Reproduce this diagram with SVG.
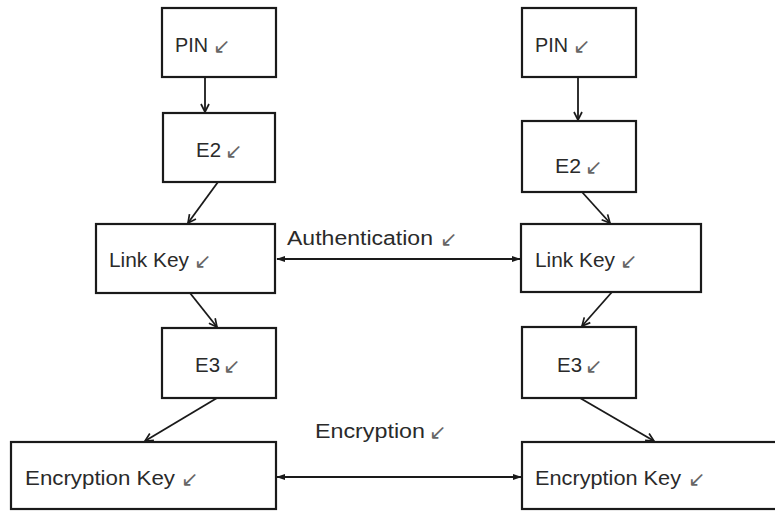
<svg xmlns="http://www.w3.org/2000/svg" width="775" height="511" viewBox="0 0 775 511">
<defs>
<style>
.box{fill:#fff;stroke:#1a1a1a;stroke-width:2.2}
.lbl{font-family:"Liberation Sans",Arial,sans-serif;font-size:20px;fill:#2a2a2a}
.ar{font-family:"DejaVu Sans",sans-serif;font-size:21px;fill:#666}
.con{stroke:#1a1a1a;stroke-width:1.8;fill:none}
</style>
<marker id="v" viewBox="0 0 10 10" refX="9" refY="5" markerWidth="10" markerHeight="10" orient="auto" markerUnits="userSpaceOnUse">
<path d="M1,1 L9,5 L1,9" fill="none" stroke="#1a1a1a" stroke-width="1.7"/>
</marker>
<marker id="t" viewBox="0 0 10 10" refX="9" refY="5" markerWidth="9" markerHeight="9" orient="auto-start-reverse" markerUnits="userSpaceOnUse">
<path d="M0,1.5 L10,5 L0,8.5 Z" fill="#1a1a1a"/>
</marker>
</defs>
<rect width="775" height="511" fill="#fff"/>
<g id="connectors">
<line class="con" x1="205" y1="77" x2="205" y2="112" marker-end="url(#v)"/>
<line class="con" x1="218" y1="182" x2="188" y2="223" marker-end="url(#v)"/>
<line class="con" x1="190" y1="293" x2="217" y2="327" marker-end="url(#v)"/>
<line class="con" x1="217" y1="398" x2="145" y2="441" marker-end="url(#v)"/>
<line class="con" x1="578" y1="77" x2="578" y2="120" marker-end="url(#v)"/>
<line class="con" x1="582" y1="192" x2="610" y2="223" marker-end="url(#v)"/>
<line class="con" x1="612" y1="292" x2="582" y2="326" marker-end="url(#v)"/>
<line class="con" x1="580" y1="398" x2="654" y2="441" marker-end="url(#v)"/>
<line class="con" x1="277" y1="259" x2="520" y2="259" marker-start="url(#t)" marker-end="url(#t)"/>
<line class="con" x1="277" y1="477" x2="521" y2="477" marker-start="url(#t)" marker-end="url(#t)"/>
<text class="lbl" x="287" y="245" textLength="146" lengthAdjust="spacingAndGlyphs">Authentication</text><text class="ar" x="440" y="246">↙</text>
<text class="lbl" x="315" y="438" textLength="110" lengthAdjust="spacingAndGlyphs">Encryption</text><text class="ar" x="429" y="439">↙</text>
</g>
<g id="pin-left"><rect class="box" x="162" y="8" width="114" height="69"/><text class="lbl" x="175" y="52" textLength="33" lengthAdjust="spacingAndGlyphs">PIN</text><text class="ar" x="213" y="53">↙</text></g>
<g id="e2-left"><rect class="box" x="163" y="113" width="112" height="69"/><text class="lbl" x="196" y="157" textLength="25" lengthAdjust="spacingAndGlyphs">E2</text><text class="ar" x="225" y="158">↙</text></g>
<g id="linkkey-left"><rect class="box" x="96" y="224" width="179" height="69"/><text class="lbl" x="109" y="267" textLength="80" lengthAdjust="spacingAndGlyphs">Link Key</text><text class="ar" x="194" y="268">↙</text></g>
<g id="e3-left"><rect class="box" x="162" y="328" width="114" height="70"/><text class="lbl" x="195" y="372" textLength="25" lengthAdjust="spacingAndGlyphs">E3</text><text class="ar" x="223" y="373">↙</text></g>
<g id="enckey-left"><rect class="box" x="11" y="442" width="265" height="67"/><text class="lbl" x="25" y="485" textLength="150" lengthAdjust="spacingAndGlyphs">Encryption Key</text><text class="ar" x="181" y="486">↙</text></g>
<g id="pin-right"><rect class="box" x="522" y="8" width="114" height="69"/><text class="lbl" x="535" y="52" textLength="33" lengthAdjust="spacingAndGlyphs">PIN</text><text class="ar" x="573" y="53">↙</text></g>
<g id="e2-right"><rect class="box" x="522" y="121" width="114" height="71"/><text class="lbl" x="555" y="173" textLength="26" lengthAdjust="spacingAndGlyphs">E2</text><text class="ar" x="585" y="174">↙</text></g>
<g id="linkkey-right"><rect class="box" x="521" y="224" width="180" height="68"/><text class="lbl" x="535" y="267" textLength="80" lengthAdjust="spacingAndGlyphs">Link Key</text><text class="ar" x="620" y="268">↙</text></g>
<g id="e3-right"><rect class="box" x="522" y="327" width="114" height="71"/><text class="lbl" x="557" y="372" textLength="25" lengthAdjust="spacingAndGlyphs">E3</text><text class="ar" x="585" y="373">↙</text></g>
<g id="enckey-right"><rect class="box" x="522" y="442" width="260" height="67"/><text class="lbl" x="535" y="485" textLength="146" lengthAdjust="spacingAndGlyphs">Encryption Key</text><text class="ar" x="688" y="486">↙</text></g>
</svg>
